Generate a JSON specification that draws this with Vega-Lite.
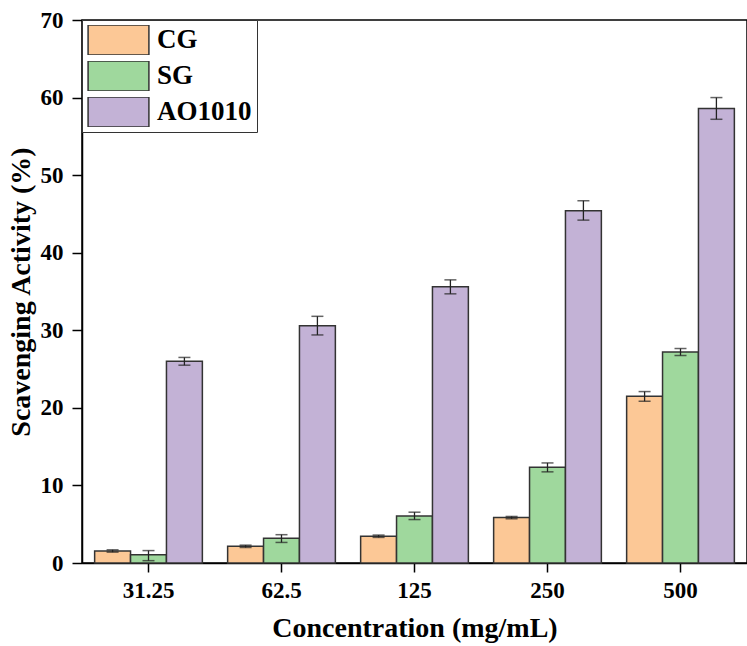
{
  "$schema": "https://vega.github.io/schema/vega-lite/v6.json",
  "autosize": {"type": "none"},
  "padding": {"left": 82, "top": 20, "right": 0, "bottom": 83},
  "width": 665,
  "height": 543,
  "background": "white",
  "config": {
    "view": {"stroke": "black", "strokeWidth": 1.5},
    "font": "Liberation Serif"
  },
  "data": {
    "values": [
      {"conc": "31.25", "group": "CG", "value": 1.55, "lo": 1.4, "hi": 1.7},
      {"conc": "31.25", "group": "SG", "value": 1.05, "lo": 0.3, "hi": 1.6},
      {"conc": "31.25", "group": "AO1010", "value": 26.0, "lo": 25.5, "hi": 26.5},
      {"conc": "62.5", "group": "CG", "value": 2.15, "lo": 2.0, "hi": 2.3},
      {"conc": "62.5", "group": "SG", "value": 3.2, "lo": 2.65, "hi": 3.65},
      {"conc": "62.5", "group": "AO1010", "value": 30.6, "lo": 29.4, "hi": 31.8},
      {"conc": "125", "group": "CG", "value": 3.45, "lo": 3.3, "hi": 3.6},
      {"conc": "125", "group": "SG", "value": 6.05, "lo": 5.6, "hi": 6.55},
      {"conc": "125", "group": "AO1010", "value": 35.6, "lo": 34.7, "hi": 36.5},
      {"conc": "250", "group": "CG", "value": 5.85, "lo": 5.7, "hi": 6.0},
      {"conc": "250", "group": "SG", "value": 12.35, "lo": 11.75, "hi": 12.9},
      {"conc": "250", "group": "AO1010", "value": 45.4, "lo": 44.2, "hi": 46.7},
      {"conc": "500", "group": "CG", "value": 21.5, "lo": 20.85, "hi": 22.1},
      {"conc": "500", "group": "SG", "value": 27.2, "lo": 26.75, "hi": 27.65},
      {"conc": "500", "group": "AO1010", "value": 58.6, "lo": 57.2, "hi": 60.0}
    ]
  },
  "encoding": {
    "x": {
      "field": "conc",
      "type": "nominal",
      "sort": ["31.25", "62.5", "125", "250", "500"],
      "scale": {"paddingInner": 0.19, "paddingOuter": 0.095},
      "axis": {
        "title": "Concentration (mg/mL)",
        "titleFont": "Liberation Serif",
        "titleFontSize": 28,
        "titleFontWeight": "bold",
        "titleColor": "black",
        "titlePadding": 12,
        "labelFont": "Liberation Serif",
        "labelFontSize": 23,
        "labelFontWeight": "bold",
        "labelColor": "black",
        "labelAngle": 0,
        "labelPadding": 7,
        "tickSize": 9,
        "tickColor": "black",
        "tickWidth": 1.5,
        "domainColor": "black",
        "domainWidth": 1.5
      }
    },
    "xOffset": {
      "field": "group",
      "type": "nominal",
      "sort": ["CG", "SG", "AO1010"],
      "scale": {"paddingInner": 0, "paddingOuter": 0}
    }
  },
  "layer": [
    {
      "mark": {"type": "bar", "stroke": "#333333", "strokeWidth": 1.5},
      "encoding": {
        "y": {
          "field": "value",
          "type": "quantitative",
          "scale": {"domain": [0, 70], "nice": false},
          "axis": {
            "title": "Scavenging Activity (%)",
            "titleFont": "Liberation Serif",
            "titleFontSize": 28,
            "titleFontWeight": "bold",
            "titleColor": "black",
            "titlePadding": 5,
            "values": [0, 5, 10, 15, 20, 25, 30, 35, 40, 45, 50, 55, 60, 65, 70],
            "labelExpr": "datum.value % 10 === 0 ? datum.label : ''",
            "labelFont": "Liberation Serif",
            "labelFontSize": 23,
            "labelFontWeight": "bold",
            "labelColor": "black",
            "labelPadding": 9,
            "tickSize": {"condition": {"test": "datum.value % 10 !== 0", "value": 5}, "value": 10},
            "tickColor": "black",
            "tickWidth": 1.5,
            "domainColor": "black",
            "domainWidth": 1.5,
            "grid": false
          }
        },
        "color": {
          "field": "group",
          "type": "nominal",
          "sort": ["CG", "SG", "AO1010"],
          "scale": {"domain": ["CG", "SG", "AO1010"], "range": ["#FCC896", "#9FD89D", "#C3B2D6"]},
          "legend": {
            "title": null,
            "orient": "none",
            "legendX": 0,
            "legendY": 0,
            "padding": 5,
            "strokeColor": "#333333",
            "fillColor": "white",
            "symbolType": "M-1,-0.49H1V0.49H-1Z",
            "symbolSize": 3700,
            "symbolStrokeColor": "#333333",
            "symbolStrokeWidth": 1.5,
            "symbolOpacity": 1,
            "clipHeight": 30,
            "rowPadding": 6,
            "labelFont": "Liberation Serif",
            "labelFontSize": 27,
            "labelFontWeight": "bold",
            "labelColor": "black",
            "labelOffset": 7,
            "labelLimit": 200
          }
        }
      }
    },
    {
      "mark": {"type": "rule", "color": "#222222", "strokeWidth": 1.3},
      "encoding": {
        "y": {"field": "lo", "type": "quantitative"},
        "y2": {"field": "hi"}
      }
    },
    {
      "mark": {"type": "tick", "color": "#222222", "size": 12, "thickness": 1.5},
      "encoding": {"y": {"field": "lo", "type": "quantitative"}}
    },
    {
      "mark": {"type": "tick", "color": "#222222", "size": 12, "thickness": 1.5},
      "encoding": {"y": {"field": "hi", "type": "quantitative"}}
    }
  ]
}
